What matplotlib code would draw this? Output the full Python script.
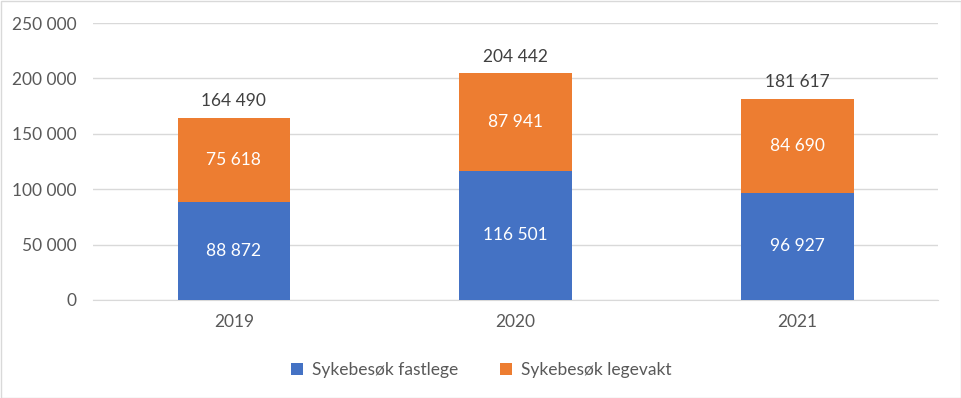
import matplotlib
matplotlib.use("Agg")
import matplotlib.pyplot as plt
from matplotlib.patches import Rectangle

years = ["2019", "2020", "2021"]
fastlege = [88872, 116501, 96927]
legevakt = [75618, 87941, 84690]
series_names = ["Sykebesøk fastlege", "Sykebesøk legevakt"]
yticks = [0, 50000, 100000, 150000, 200000, 250000]

def fmt(v):
    return f"{v:,}".replace(",", " ")

plt.rcParams['font.family'] = ['Lato', 'DejaVu Sans']
blue = "#4472C4"
orange = "#ED7D31"
txt = "#595959"
fs = 12.5

fig = plt.figure(figsize=(9.62, 3.98), dpi=100)
ax = fig.add_axes([93/962, 1-300/398, 845/962, 277/398])

x = list(range(len(years)))
w = 0.4
b1 = ax.bar(x, fastlege, width=w, color=blue, zorder=3, label=series_names[0])
b2 = ax.bar(x, legevakt, width=w, bottom=fastlege, color=orange, zorder=3, label=series_names[1])

for i in x:
    ax.text(i, fastlege[i]/2, fmt(fastlege[i]), ha="center", va="center", color="white", fontsize=fs, zorder=4)
    ax.text(i, fastlege[i] + legevakt[i]/2, fmt(legevakt[i]), ha="center", va="center", color="white", fontsize=fs, zorder=4)
    tot = fastlege[i] + legevakt[i]
    ax.text(i, tot + 8000, fmt(tot), ha="center", va="bottom", color="#404040", fontsize=fs, zorder=4)

ax.set_xlim(-0.5, 2.5)
ax.set_ylim(0, 250000)
ax.set_yticks(yticks)
ax.set_yticklabels([fmt(v) for v in yticks])
ax.set_xticks(x)
ax.set_xticklabels(years)
ax.tick_params(axis="both", length=0, labelsize=fs, colors=txt)
ax.tick_params(axis="y", pad=12)
ax.tick_params(axis="x", pad=10)
ax.grid(axis="y", color="#D9D9D9", linewidth=1, zorder=0)
for s in ["top", "right", "left"]:
    ax.spines[s].set_visible(False)
ax.spines["bottom"].set_color("#D9D9D9")

leg = fig.legend(handles=[b1, b2], labels=series_names, loc="center", bbox_to_anchor=(0.5, 1-370/398),
                 ncol=2, frameon=False, fontsize=fs, handlelength=0.7, handleheight=0.7,
                 columnspacing=2.4, handletextpad=0.5)
for t in leg.get_texts():
    t.set_color(txt)

fig.patches.append(Rectangle((0.5/962, 0.5/398), 1-1/962, 1-1/398, transform=fig.transFigure,
                             fill=False, edgecolor="#D9D9D9", linewidth=1))

fig.savefig("out.png", dpi=100)
